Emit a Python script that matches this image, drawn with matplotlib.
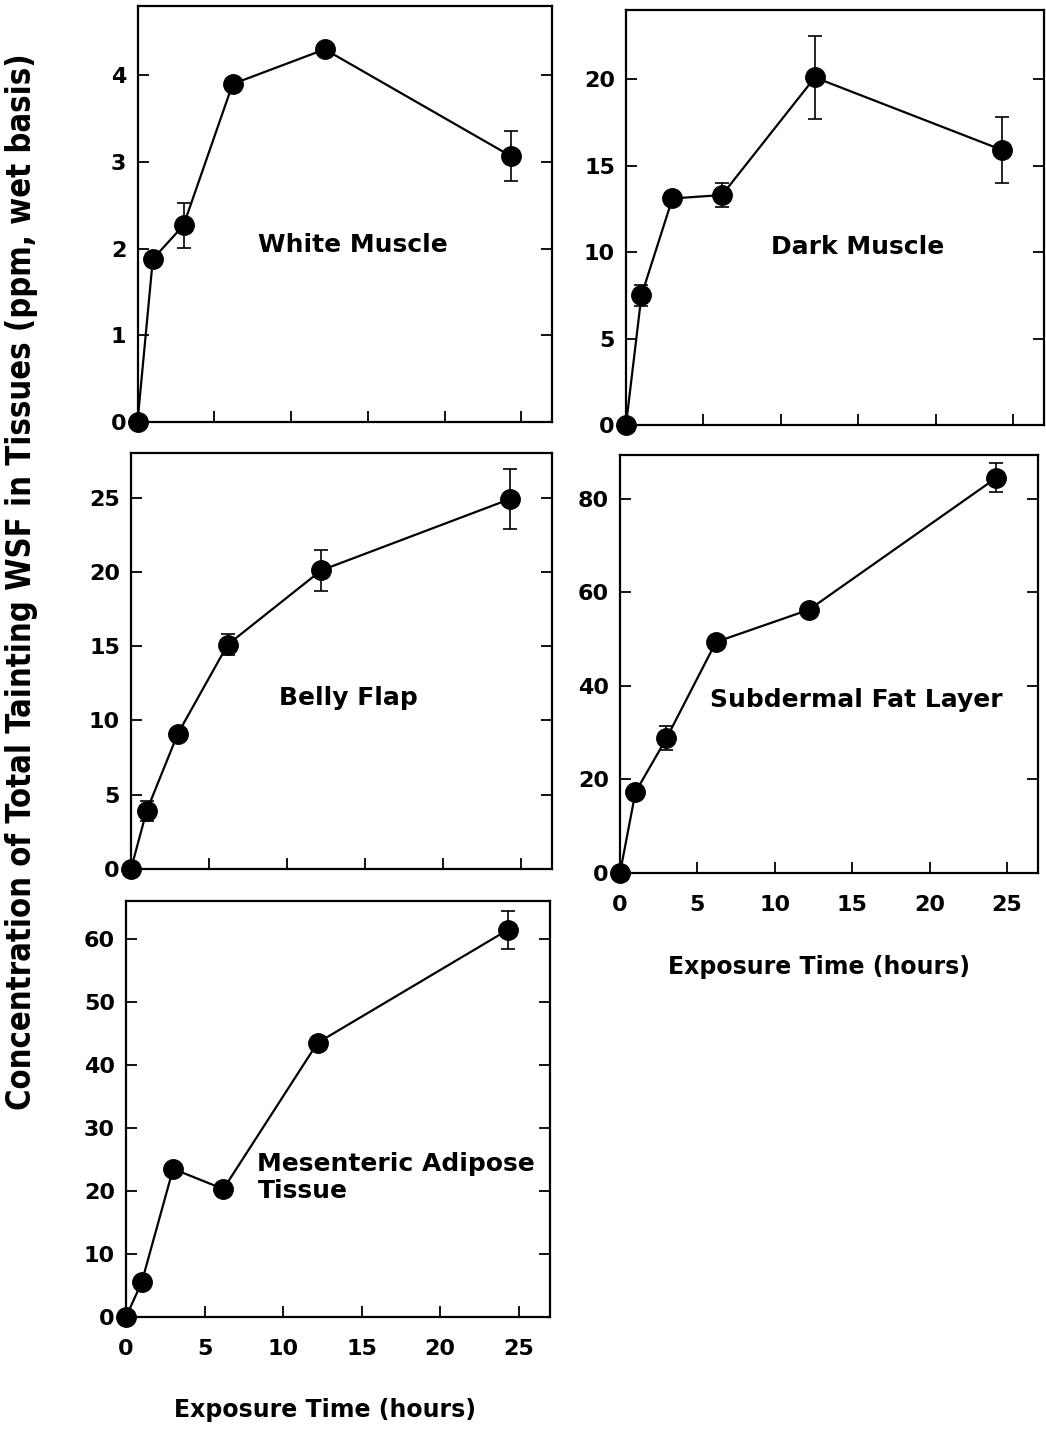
import matplotlib
matplotlib.use("Agg")
import matplotlib.pyplot as plt
import numpy as np

# exposure times (hours)
hours = [0, 1, 3, 6.2, 12.2, 24.3]

white = [0, 1.88, 2.27, 3.9, 4.3, 3.07]
white_err = [0, 0, 0.26, 0, 0, 0.29]

dark = [0, 7.5, 13.1, 13.3, 20.1, 15.9]
dark_err = [0, 0.6, 0, 0.7, 2.4, 1.9]

belly = [0, 3.9, 9.1, 15.1, 20.1, 24.9]
belly_err = [0, 0.7, 0, 0.7, 1.4, 2.0]

subdermal = [0, 17.3, 28.8, 49.4, 56.3, 84.5]
subdermal_err = [0, 0, 2.6, 0, 0, 3.1]

mesenteric = [0, 5.5, 23.5, 20.3, 43.5, 61.4]
mesenteric_err = [0, 0, 0, 0, 0, 3.0]

x_ticks = [0, 5, 10, 15, 20, 25]

W, H = 1046, 1435
plt.rcParams['font.family'] = ['DejaVu Sans']
plt.rcParams['font.weight'] = 'bold'

fig = plt.figure(figsize=(W / 100, H / 100), dpi=100)


def make_ax(left, top, right, bottom):
    return fig.add_axes([left / W, 1 - bottom / H, (right - left) / W, (bottom - top) / H])


def panel(ax, y, err, ymax, yticks, label, lx, ly, ha="center", show_x=False):
    ax.plot(hours, y, "-", color="black", lw=1.6, marker="o", ms=14,
            clip_on=False, zorder=3)
    y = np.array(y)
    err = np.array(err)
    m = err > 0
    ax.errorbar(np.array(hours)[m], y[m], yerr=err[m], fmt="none", ecolor="black",
                elinewidth=1.2, capsize=5, capthick=1.2, clip_on=False, zorder=2)
    ax.set_xlim(0, 27)
    ax.set_ylim(0, ymax)
    ax.set_xticks(x_ticks)
    ax.set_yticks(yticks)
    ax.tick_params(axis="both", direction="in", length=8, width=1.3,
                   labelsize=16, right=True, top=False)
    ax.tick_params(axis="y", pad=8)
    ax.tick_params(axis="x", pad=16)
    if not show_x:
        ax.set_xticklabels([])
    for s in ax.spines.values():
        s.set_linewidth(1.6)
    ax.text(lx, ly, label, transform=ax.transAxes, ha=ha, va="center",
            fontsize=18, fontweight="bold", linespacing=1.15)


ax1 = make_ax(137.5, 6, 552, 422)
panel(ax1, white, white_err, 4.8, [0, 1, 2, 3, 4], "White Muscle", 0.52, 0.425)

ax2 = make_ax(626, 10, 1044, 425)
panel(ax2, dark, dark_err, 24, [0, 5, 10, 15, 20], "Dark Muscle", 0.555, 0.43)

ax3 = make_ax(131, 453, 552, 869)
panel(ax3, belly, belly_err, 28, [0, 5, 10, 15, 20, 25], "Belly Flap", 0.517, 0.41)

ax4 = make_ax(620, 455, 1038, 873)
panel(ax4, subdermal, subdermal_err, 89.4, [0, 20, 40, 60, 80],
      "Subdermal Fat Layer", 0.565, 0.415, show_x=True)
ax4.set_xlabel("Exposure Time (hours)", fontsize=17, fontweight="bold")
ax4.xaxis.set_label_coords(0.476, -0.195)

ax5 = make_ax(126, 901, 550, 1317)
panel(ax5, mesenteric, mesenteric_err, 66, [0, 10, 20, 30, 40, 50, 60],
      "Mesenteric Adipose\nTissue", 0.31, 0.335, ha="left", show_x=True)
ax5.set_xlabel("Exposure Time (hours)", fontsize=17, fontweight="bold")
ax5.xaxis.set_label_coords(0.469, -0.195)

fig.text(22 / W, 1 - 582 / H,
         "Concentration of Total Tainting WSF in Tissues (ppm, wet basis)",
         rotation=90, ha="center", va="center", fontsize=23.5,
         family="DejaVu Sans", fontstretch="condensed", fontweight="bold")

fig.savefig("out.png", dpi=100)
